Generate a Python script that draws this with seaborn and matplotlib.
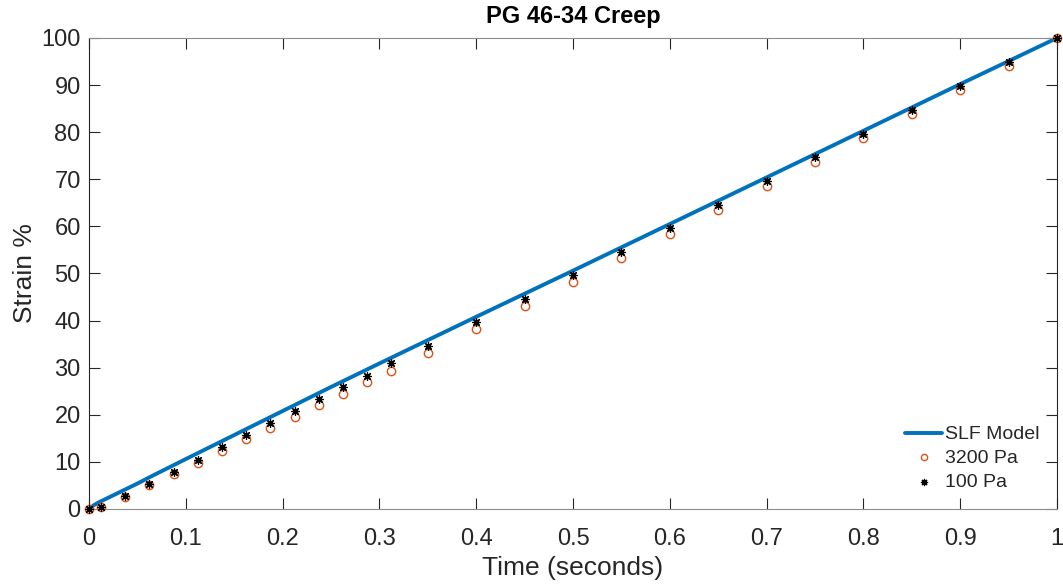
import matplotlib
matplotlib.use("Agg")
import matplotlib.pyplot as plt
import seaborn as sns
import pandas as pd

# Measured creep data (time in seconds, strain in %)
time_pts = [0.0, 0.0125, 0.0375, 0.0625, 0.0875, 0.1125, 0.1375, 0.1625, 0.1875,
            0.2125, 0.2375, 0.2625, 0.2875, 0.3125, 0.35, 0.40, 0.45, 0.50, 0.55,
            0.60, 0.65, 0.70, 0.75, 0.80, 0.85, 0.90, 0.95, 1.0]
strain_3200 = [0.0, 0.4, 2.5, 5.0, 7.4, 9.8, 12.3, 14.8, 17.2, 19.6, 22.1, 24.5, 27.0,
               29.4, 33.2, 38.2, 43.2, 48.2, 53.3, 58.4, 63.4, 68.5, 73.6, 78.7,
               83.8, 88.9, 94.0, 100.0]
strain_100 = [0.0, 0.5, 2.7, 5.3, 7.9, 10.5, 13.1, 15.7, 18.2, 20.7, 23.3, 25.8, 28.3,
              30.9, 34.7, 39.7, 44.6, 49.6, 54.6, 59.6, 64.6, 69.7, 74.7, 79.7,
              84.7, 89.8, 94.8, 100.0]

# SLF model curve
model_time = [0.0, 0.005, 0.01, 0.02, 0.03, 0.05, 0.065, 0.1, 0.15, 0.2, 0.25, 0.3,
              0.4, 0.5, 0.6, 0.7, 0.8, 0.9, 1.0]
model_strain = [0.0, 0.8, 1.4, 2.4, 3.4, 5.4, 7.0, 10.6, 15.7, 20.8, 25.9, 30.9,
                40.8, 50.6, 60.5, 70.4, 80.3, 90.2, 100.0]

x_ticks = [0, 0.1, 0.2, 0.3, 0.4, 0.5, 0.6, 0.7, 0.8, 0.9, 1]
x_tick_labels = ["0", "0.1", "0.2", "0.3", "0.4", "0.5", "0.6", "0.7", "0.8", "0.9", "1"]
y_ticks = [0, 10, 20, 30, 40, 50, 60, 70, 80, 90, 100]

sns.set_theme(style="white")
plt.rcParams["font.family"] = ["Liberation Sans", "DejaVu Sans"]

model_df = pd.DataFrame({"t": model_time, "s": model_strain})
data_df = pd.DataFrame({"t": time_pts, "s3200": strain_3200, "s100": strain_100})

fig = plt.figure(figsize=(10.63, 5.86), dpi=100)
ax = fig.add_axes([0.0837, 0.1314, 0.9107, 0.8038])

sns.lineplot(data=model_df, x="t", y="s", ax=ax, color="#0072BD", linewidth=2.8,
             label="SLF Model", zorder=2)
ax.plot(data_df["t"], data_df["s3200"], linestyle="none", marker="o", markersize=6,
        markerfacecolor="none", markeredgecolor="#D95319", markeredgewidth=1.0,
        label="3200 Pa", zorder=3, clip_on=False)
sns.scatterplot(data=data_df, x="t", y="s100", ax=ax, marker=(8, 2, 0), s=32,
                color="black", linewidth=0.9, label="100 Pa", zorder=4, clip_on=False)

ax.set_xlim(0, 1)
ax.set_ylim(0, 100)
ax.set_xticks(x_ticks)
ax.set_xticklabels(x_tick_labels)
ax.set_yticks(y_ticks)

axis_col = "#262626"
for side in ["left", "right", "top", "bottom"]:
    ax.spines[side].set_visible(True)
    ax.spines[side].set_color(axis_col)
    ax.spines[side].set_linewidth(0.8)
ax.spines["top"].set_color("#8c8c8c")
ax.spines["bottom"].set_color("#8c8c8c")

ax.tick_params(axis="both", direction="in", length=8, width=0.8, color=axis_col,
               labelsize=17, labelcolor=axis_col, top=True, right=True,
               bottom=True, left=True)
ax.tick_params(axis="x", pad=14)
ax.tick_params(axis="y", pad=6)

ax.set_xlabel("Time (seconds)", fontsize=19, color=axis_col, labelpad=4)
ax.set_ylabel("Strain %", fontsize=19, color=axis_col, labelpad=3)
ax.set_title("PG 46-34 Creep", fontsize=17, fontweight="bold", color="black", pad=11)

leg = ax.legend(loc="lower right", frameon=False, fontsize=14, handlelength=1.9,
                handletextpad=0.15, borderaxespad=0.5, labelspacing=0.33)
for h in leg.legend_handles:
    try:
        h.set_markersize(4.5)
    except AttributeError:
        pass
    try:
        if h.get_label() != "SLF Model":
            h.set_sizes([20])
    except AttributeError:
        pass

fig.savefig("out.png", dpi=100, facecolor="white")
